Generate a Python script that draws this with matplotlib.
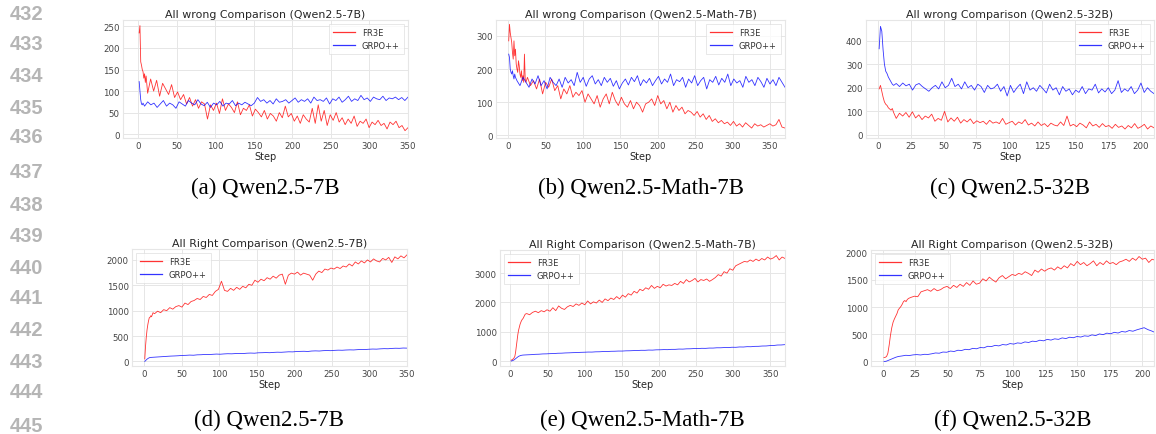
import numpy as np
import matplotlib
matplotlib.use('Agg')
import matplotlib.pyplot as plt

# ---- data ----
# (a) all wrong, Qwen2.5-7B
a_fr3e_early = [235, 252, 168, 160, 150, 145, 130, 140, 120, 135]
a_fr3e_late = [95, 128, 100, 125, 88, 118, 105, 92, 115, 85, 98, 80, 92, 70, 85, 65, 80, 60, 75, 70,
               35, 68, 55, 72, 48, 82, 55, 70, 62, 50, 75, 45, 60, 55, 68, 42, 58, 50, 40, 55,
               35, 48, 42, 30, 50, 38, 65, 40, 48, 30, 42, 25, 45, 35, 28, 60, 25, 68, 30, 55,
               20, 45, 32, 50, 28, 38, 22, 35, 25, 42, 18, 30, 25, 35, 15, 28, 22, 32, 20, 25,
               12, 28, 22, 30, 15, 20, 8, 15]
a_grpo_early = [122, 100, 80, 70, 68, 72]
a_grpo_late = [65, 75, 68, 72, 62, 70, 78, 65, 72, 68, 60, 75, 70, 65, 78, 72, 68, 80, 70, 66,
               74, 62, 72, 68, 76, 65, 72, 70, 78, 66, 72, 68, 74, 70, 66, 72, 85, 76, 80, 72,
               78, 70, 82, 74, 76, 80, 72, 78, 84, 74, 80, 76, 82, 72, 86, 78, 80, 76, 84, 70,
               82, 78, 86, 74, 80, 88, 76, 82, 78, 90, 80, 84, 76, 86, 82, 80, 88, 78, 84, 82,
               86, 80, 85, 78, 86]

# (b) all wrong, Qwen2.5-Math-7B
b_fr3e_early = [285, 335, 310, 295, 280, 250, 230, 285, 240, 260, 215, 200, 190, 225, 210, 185,
                175, 195, 165, 180, 160, 245, 170, 160]
b_fr3e_late = [175, 150, 165, 140, 170, 125, 160, 145, 170, 135, 150, 110, 140, 125, 150, 115,
               130, 120, 135, 100, 125, 110, 95, 120, 85, 110, 125, 95, 130, 105, 90, 115, 95,
               85, 105, 80, 100, 90, 70, 95, 100, 110, 90, 120, 95, 105, 80, 100, 70, 90, 75,
               85, 65, 75, 70, 60, 72, 55, 65, 48, 60, 42, 50, 38, 45, 35, 40, 30, 42, 28, 35,
               25, 38, 30, 22, 35, 28, 32, 25, 30, 35, 28, 32, 48, 25, 22]
b_grpo_early = [245, 235, 200, 190, 185, 195, 180, 170, 185, 175]
b_grpo_late = [165, 150, 175, 160, 145, 170, 155, 180, 150, 165, 140, 175, 160, 150, 170, 145,
               175, 158, 168, 150, 190, 160, 175, 148, 170, 180, 155, 168, 150, 175, 160, 172,
               148, 165, 140, 158, 170, 152, 175, 162, 180, 150, 168, 158, 172, 150, 165, 178,
               155, 170, 160, 185, 150, 168, 162, 175, 145, 170, 158, 180, 150, 165, 175, 140,
               168, 160, 178, 152, 172, 160, 185, 150, 170, 158, 165, 145, 178, 160, 168, 150,
               175, 162, 145, 172, 155, 168, 150, 175, 160, 145]

# (c) all wrong, Qwen2.5-32B
c_fr3e_early = [195, 210, 185, 160, 140, 130, 125, 115, 110, 105, 112, 95]
c_fr3e_late = [70, 92, 80, 95, 75, 98, 72, 85, 65, 80, 72, 88, 58, 70, 62, 100, 55, 72, 58, 75,
               50, 65, 55, 68, 48, 60, 52, 58, 45, 62, 50, 55, 48, 70, 45, 52, 58, 42, 55, 48,
               65, 42, 50, 38, 55, 40, 48, 35, 50, 42, 38, 55, 40, 80, 38, 45, 35, 50, 42, 30,
               55, 38, 45, 32, 48, 35, 40, 28, 45, 32, 38, 25, 40, 30, 48, 28, 35, 45, 25, 38, 30]
c_grpo_early = [365, 460, 440, 360, 300, 270, 260, 245, 235, 225, 215, 210]
c_grpo_late = [218, 205, 220, 208, 215, 190, 212, 218, 205, 195, 185, 200, 210, 195, 225, 200,
               210, 240, 205, 215, 195, 225, 200, 210, 190, 215, 205, 180, 210, 195, 200, 215,
               185, 205, 165, 210, 180, 200, 215, 175, 225, 190, 200, 185, 210, 195, 178, 215,
               190, 200, 170, 205, 185, 195, 170, 190, 180, 205, 175, 195, 190, 215, 178, 195,
               182, 200, 175, 190, 230, 180, 195, 185, 205, 175, 190, 220, 180, 200, 185, 175]

# (d) all right, Qwen2.5-7B
d_fr3e_early = [50, 300, 480, 620, 720, 800, 860, 870, 900, 880, 920, 960]
d_fr3e_late = [940, 990, 960, 1020, 1000, 1060, 1030, 1080, 1100, 1070, 1150, 1120, 1180, 1200,
               1240, 1220, 1280, 1260, 1320, 1300, 1380, 1420, 1580,
               1400, 1380, 1440, 1400, 1460, 1420, 1480, 1450, 1520, 1500, 1600, 1560, 1620,
               1590, 1650, 1620, 1680, 1640, 1700, 1720, 1520,
               1700, 1740, 1720, 1760, 1700, 1740, 1720, 1700, 1600,
               1720, 1780, 1750, 1820, 1800, 1840, 1820, 1860, 1830, 1880, 1860, 1920, 1880,
               1960, 1920, 1980, 1940, 2000, 1960, 2020, 1980, 1960, 2030, 2000, 2050, 1950,
               2060, 2020, 2080, 2040, 2100]
d_grpo_early = [0, 15, 30, 45, 55, 65, 72, 78]
d_grpo_late = [80, 85, 90, 95, 100, 105, 108, 112, 118, 120, 125, 122, 130, 132, 138, 135, 140,
               145, 142, 148, 152, 150, 155, 158, 155, 162, 165, 162, 170, 172, 175, 172, 178,
               182, 180, 185, 190, 188, 195, 198, 200, 196, 205, 208, 205, 212, 215, 212, 218,
               222, 220, 225, 228, 226, 232, 236, 234, 240, 244, 242, 248, 252, 250, 256, 260,
               258, 264, 262]

# (e) all right, Qwen2.5-Math-7B
e_fr3e_early = [30, 40, 55, 80, 110, 160, 300, 500, 700, 900, 1050, 1150, 1250, 1320, 1380,
                1420, 1450, 1500, 1550, 1600]
e_fr3e_late = [1620, 1580, 1660, 1700, 1650, 1720, 1680, 1750, 1700, 1820, 1720, 1880, 1800,
               1760, 1850, 1900, 1860, 1950, 1900, 1980, 1920, 2050, 1950, 2020, 1980, 2080,
               2000, 2120, 2060, 2150, 2100, 2200, 2120, 2250, 2180, 2300, 2250, 2380, 2320,
               2450, 2400, 2500, 2450, 2580, 2480, 2550, 2500, 2620, 2560, 2600, 2580, 2650,
               2600, 2720, 2650, 2780, 2700, 2750, 2820, 2700, 2780, 2750, 2800, 2720, 2780,
               2850, 2950, 2900, 3050, 3000, 3150, 3100, 3250, 3300, 3350, 3400, 3380, 3450,
               3400, 3480, 3420, 3500, 3450, 3550, 3480, 3520, 3600, 3450, 3550, 3500]
e_grpo_early = [0, 5, 15, 25, 40, 60, 80, 100, 120, 140, 160, 170, 180, 190, 195, 200]
e_grpo_late = [205, 212, 218, 228, 232, 242, 245, 252, 256, 265, 268, 276, 280, 286, 289, 296,
               300, 306, 305, 314, 316, 324, 322, 332, 334, 340, 340, 348, 350, 356, 358, 366,
               365, 374, 372, 382, 384, 390, 388, 398, 398, 408, 406, 416, 418, 426, 424, 434,
               432, 442, 442, 452, 452, 460, 458, 470, 468, 480, 478, 490, 488, 500, 502, 512,
               514, 526, 530, 546, 548, 560]

# (f) all right, Qwen2.5-32B
f_fr3e_early = [70, 75, 90, 150, 300, 480, 620, 720, 780, 830, 880, 950, 980, 1010, 1050, 1100,
                1120, 1100, 1140, 1160]
f_fr3e_late = [1180, 1200, 1190, 1280, 1300, 1320, 1290, 1340, 1300, 1320, 1360, 1380, 1340,
               1400, 1360, 1420, 1380, 1450, 1400, 1480, 1420, 1440, 1520, 1480, 1550, 1500,
               1460, 1540, 1580, 1520, 1560, 1600, 1580, 1620, 1600, 1650, 1620, 1580, 1680,
               1640, 1700, 1660, 1700, 1720, 1680, 1740, 1700, 1760, 1720, 1800, 1760, 1840,
               1780, 1820, 1760, 1800, 1850, 1760, 1820, 1780, 1850, 1800, 1820, 1780, 1830,
               1850, 1880, 1840, 1900, 1860, 1930, 1880, 1900, 1820, 1880, 1860]
f_grpo_early = [0, 0, 5, 15, 25, 35, 45, 55, 65, 75]
f_grpo_late = [90, 100, 112, 108, 120, 125, 118, 130, 128, 140, 155, 150, 172, 168, 190, 182,
               205, 200, 222, 215, 240, 232, 255, 250, 278, 272, 295, 285, 310, 302, 328, 318,
               340, 332, 358, 348, 372, 365, 390, 378, 405, 392, 415, 405, 432, 420, 445, 435,
               458, 448, 470, 462, 488, 475, 505, 492, 520, 508, 535, 522, 550, 540, 568, 555,
               580, 600, 620, 585, 560, 530]

panels = [
    ('All wrong Comparison (Qwen2.5-7B)', '(a) Qwen2.5-7B', 350,
     a_fr3e_early, a_fr3e_late, a_grpo_early, a_grpo_late),
    ('All wrong Comparison (Qwen2.5-Math-7B)', '(b) Qwen2.5-Math-7B', 370,
     b_fr3e_early, b_fr3e_late, b_grpo_early, b_grpo_late),
    ('All wrong Comparison (Qwen2.5-32B)', '(c) Qwen2.5-32B', 210,
     c_fr3e_early, c_fr3e_late, c_grpo_early, c_grpo_late),
    ('All Right Comparison (Qwen2.5-7B)', '(d) Qwen2.5-7B', 350,
     d_fr3e_early, d_fr3e_late, d_grpo_early, d_grpo_late),
    ('All Right Comparison (Qwen2.5-Math-7B)', '(e) Qwen2.5-Math-7B', 370,
     e_fr3e_early, e_fr3e_late, e_grpo_early, e_grpo_late),
    ('All Right Comparison (Qwen2.5-32B)', '(f) Qwen2.5-32B', 210,
     f_fr3e_early, f_fr3e_late, f_grpo_early, f_grpo_late),
]

line_numbers = list(range(432, 446))

# ---- layout (pixels in a 1156x435 figure) ----
W, H = 1156, 435
boxes = [(123, 408, 21, 139), (496, 785, 21, 139), (866, 1154, 21, 139),
         (132, 407, 250, 367), (500, 785, 251, 367), (871, 1154, 251, 367)]
xlims = [(-20, 350), (-16, 370), (-9, 210), (-16, 350), (-14, 370), (-9, 209)]
ylims = [(-9, 265), (-8, 348), (-13, 487), (-90, 2215), (-170, 3790), (-85, 2050)]
yticks = [range(0, 251, 50), range(0, 301, 100), range(0, 401, 100),
          range(0, 2001, 500), range(0, 3001, 1000), range(0, 2001, 500)]
xticks = [range(0, 351, 50), range(0, 351, 50), range(0, 201, 25),
          range(0, 351, 50), range(0, 351, 50), range(0, 201, 25)]
num_y = [14, 45, 77, 108, 138, 172, 206, 237, 268, 299, 331, 363, 393, 427]

plt.rcParams['font.family'] = 'DejaVu Sans'
fig = plt.figure(figsize=(W / 100, H / 100), dpi=100)

def steps(early, late, end):
    x1 = np.arange(1, len(early) + 1)
    x2 = np.linspace(len(early) + 2, end, len(late))
    return np.concatenate([x1, x2]), np.array(early + late, dtype=float)

grid_c = '#e6e6e6'
for i, (title, cap, end, fe, fl, ge, gl) in enumerate(panels):
    l, r, t, b = boxes[i]
    ax = fig.add_axes([l / W, 1 - b / H, (r - l) / W, (b - t) / H])
    xf, yf = steps(fe, fl, end)
    xg, yg = steps(ge, gl, end)
    ax.plot(xf, yf, color='red', lw=0.6, alpha=0.8, label='FR3E')
    ax.plot(xg, yg, color='blue', lw=0.6, alpha=0.8, label='GRPO++')
    ax.set_xlim(*xlims[i])
    ax.set_ylim(*ylims[i])
    ax.set_xticks(list(xticks[i]))
    ax.set_yticks(list(yticks[i]))
    ax.grid(True, color=grid_c, lw=0.7)
    ax.set_axisbelow(True)
    for s in ax.spines.values():
        s.set_color(grid_c)
        s.set_linewidth(0.8)
    ax.tick_params(length=0, labelsize=6.2, colors='#444444', pad=2.5)
    ax.set_title(title, fontsize=7.9, color='#262626', pad=2.5)
    ax.set_xlabel('Step', fontsize=7, color='#262626', labelpad=0.5)
    leg = ax.legend(loc='upper right' if i < 3 else 'upper left', fontsize=6,
                    frameon=True, fancybox=False, borderpad=0.5, handlelength=2.6,
                    labelspacing=0.45, borderaxespad=0.5)
    leg.get_frame().set_edgecolor('#dddddd')
    leg.get_frame().set_linewidth(0.6)
    for h in leg.legend_handles:
        h.set_linewidth(0.9)
    for txt in leg.get_texts():
        txt.set_color('#333333')
    cy = 188 if i < 3 else 420
    fig.text((l + r) / 2 / W, 1 - cy / H, cap, ha='center', va='center',
             fontsize=16.5, family='Liberation Serif', color='black')

for n, y in zip(line_numbers, num_y):
    fig.text(10 / W, 1 - y / H, str(n), ha='left', va='center', fontsize=14.5,
             family='Liberation Sans', weight='bold', color='#b5b5b5')

fig.savefig('out.png', dpi=100)
